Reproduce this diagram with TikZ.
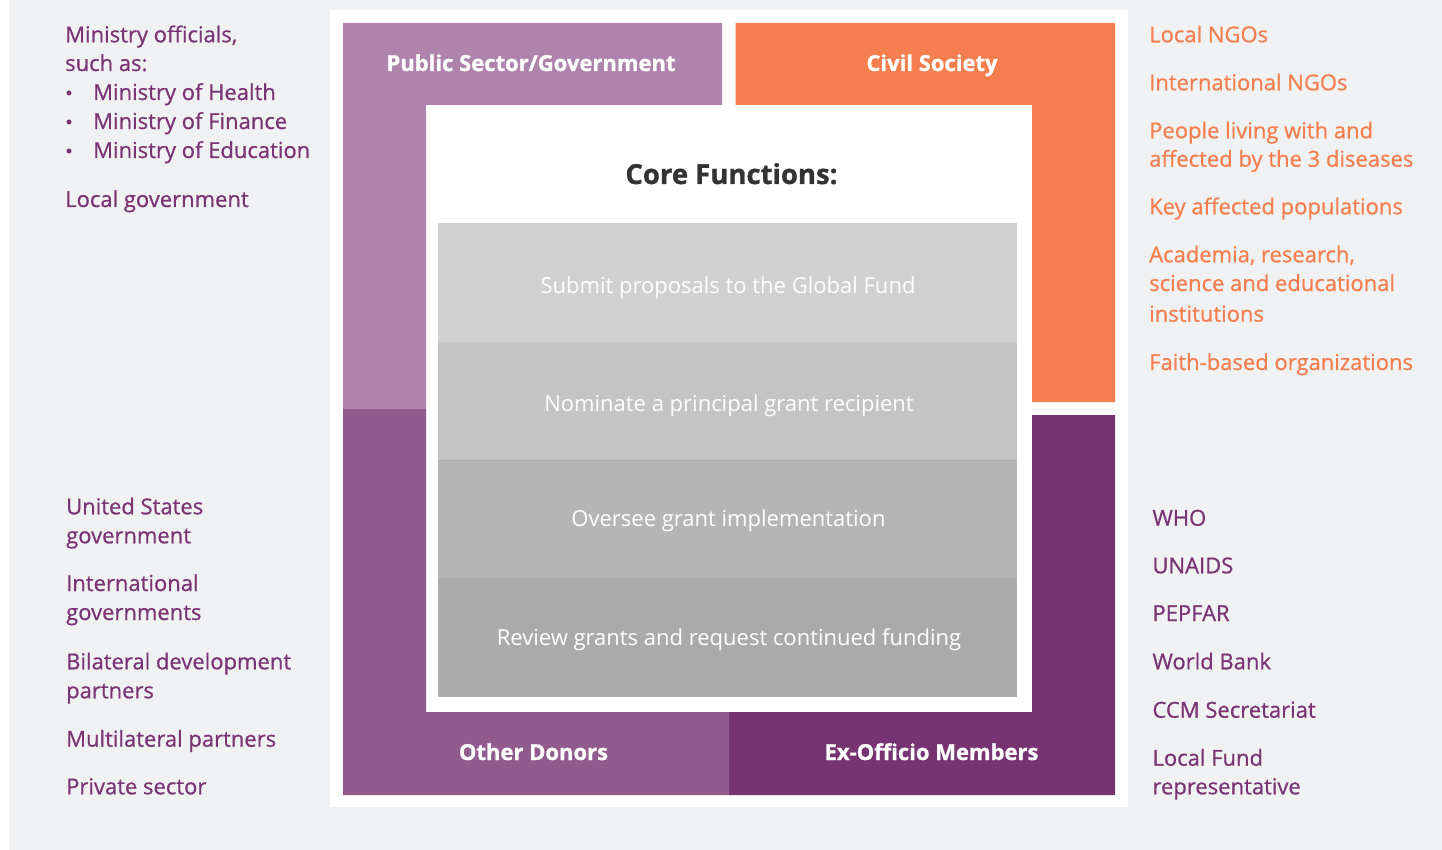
\documentclass[tikz,border=0pt]{standalone}
\usepackage{fontspec}
\setmainfont{Open Sans}
\newfontfamily\semibfont[FakeBold=0.7]{Open Sans}
\newfontfamily\xbfont[FakeBold=1.0]{Open Sans Bold}
\definecolor{bggray}{HTML}{F0F1F3}
\definecolor{lpurple}{HTML}{AE84AD}
\definecolor{mpurple}{HTML}{925B8E}
\definecolor{dpurple}{HTML}{783472}
\definecolor{orng}{HTML}{F47E4D}
\definecolor{txtpurple}{HTML}{7A3473}
\definecolor{barA}{HTML}{D0D0D0}
\definecolor{barB}{HTML}{C4C4C4}
\definecolor{barC}{HTML}{B5B5B5}
\definecolor{barD}{HTML}{AAAAAA}
\definecolor{coretxt}{HTML}{333333}
\tikzset{
  lbl/.style={anchor=base west, inner sep=0pt, font=\semibfont\fontsize{22}{29}\selectfont},
  plbl/.style={lbl, text=txtpurple},
  olbl/.style={lbl, text=orng},
  ttl/.style={anchor=base, inner sep=0pt, text=white, font=\xbfont\fontsize{22}{26}\selectfont},
  coretext/.style={anchor=base, inner sep=0pt, text=white, font=\fontsize{22}{26}\selectfont},
  bullet/.style={circle, fill=txtpurple, inner sep=0pt, minimum size=5pt}
}
\begin{document}
\begin{tikzpicture}[x=1pt, y=-1pt]
\useasboundingbox (0,0) rectangle (1442,850);
% background
\fill[white] (0,0) rectangle (1442,850);
\fill[bggray] (9,0) rectangle (1442,850);
\fill[white] (330,10) rectangle (1128,807);
% coloured L shapes
\fill[lpurple] (343,23) -- (722,23) -- (722,105) -- (426,105) -- (426,409) -- (343,409) -- cycle;
\fill[mpurple] (343,409) -- (426,409) -- (426,712) -- (729,712) -- (729,795) -- (343,795) -- cycle;
\fill[orng] (735.5,23) -- (1115,23) -- (1115,402) -- (1032,402) -- (1032,105) -- (735.5,105) -- cycle;
\fill[dpurple] (1032,415) -- (1115,415) -- (1115,795) -- (729,795) -- (729,712) -- (1032,712) -- cycle;
% core function bars
\fill[barA] (438,223) rectangle (1017,342);
\fill[barB] (438,342) rectangle (1017,460);
\fill[barC] (438,460) rectangle (1017,578);
\fill[barD] (438,578) rectangle (1017,697);
\draw[barD, line width=0.8pt] (438,460) -- (1017,460);
% titles
\node[ttl] (pubsec) at (531,71) {Public Sector/Government};
\node[ttl] (civsoc) at (932,71) {Civil Society};
\node[ttl] (othdon) at (533.5,760) {Other Donors};
\node[ttl] (exoff) at (931.5,760) {Ex-Officio Members};
\node[anchor=base, inner sep=0pt, text=coretxt, font=\xbfont\fontsize{27.5}{30}\selectfont] (core) at (731.5,184) {Core Functions:};
\node[coretext] (f1) at (728,293) {Submit proposals to the Global Fund};
\node[coretext] (f2) at (729,411.7) {Nominate a principal grant recipient};
\node[coretext] (f3) at (728.5,526.7) {Oversee grant implementation};
\node[coretext] (f4) at (729,645) {Review grants and request continued funding};
% left upper list
\node[plbl] (l1) at (65,42.3) {Ministry officials,};
\node[plbl] (l2) at (65,71) {such as:};
\node[bullet] (b1) at (69,93) {};
\node[plbl] (l3) at (93,100) {Ministry of Health};
\node[bullet] (b2) at (69,122) {};
\node[plbl] (l4) at (93,129) {Ministry of Finance};
\node[bullet] (b3) at (69,151) {};
\node[plbl] (l5) at (93,158) {Ministry of Education};
\node[plbl] (l6) at (65,207) {Local government};
% left lower list
\node[plbl] (d1) at (66,514.3) {United States};
\node[plbl] (d1b) at (66,543.3) {government};
\node[plbl] (d2) at (66,591) {International};
\node[plbl] (d2b) at (66,620) {governments};
\node[plbl] (d3) at (66,669.3) {Bilateral development};
\node[plbl] (d3b) at (66,698.3) {partners};
\node[plbl] (d4) at (66,746.7) {Multilateral partners};
\node[plbl] (d5) at (66,794.3) {Private sector};
% right upper list
\node[olbl] (c1) at (1149,42.3) {Local NGOs};
\node[olbl] (c2) at (1149,90.3) {International NGOs};
\node[olbl] (c3) at (1149,138.3) {People living with and};
\node[olbl] (c3b) at (1149,166.7) {affected by the 3 diseases};
\node[olbl] (c4) at (1149,214.3) {Key affected populations};
\node[olbl] (c5) at (1149,262.3) {Academia, research,};
\node[olbl] (c5b) at (1149,291) {science and educational};
\node[olbl] (c5c) at (1149,321.7) {institutions};
\node[olbl] (c6) at (1149,370) {Faith-based organizations};
% right lower list
\node[plbl] (e1) at (1152.3,525.7) {WHO};
\node[plbl] (e2) at (1152.3,573.3) {UNAIDS};
\node[plbl] (e3) at (1152.3,621) {PEPFAR};
\node[plbl] (e4) at (1152.3,669.3) {World Bank};
\node[plbl] (e5) at (1152.3,717.7) {CCM Secretariat};
\node[plbl] (e6) at (1152.3,765.7) {Local Fund};
\node[plbl] (e6b) at (1152.3,794.3) {representative};
\end{tikzpicture}
\end{document}
